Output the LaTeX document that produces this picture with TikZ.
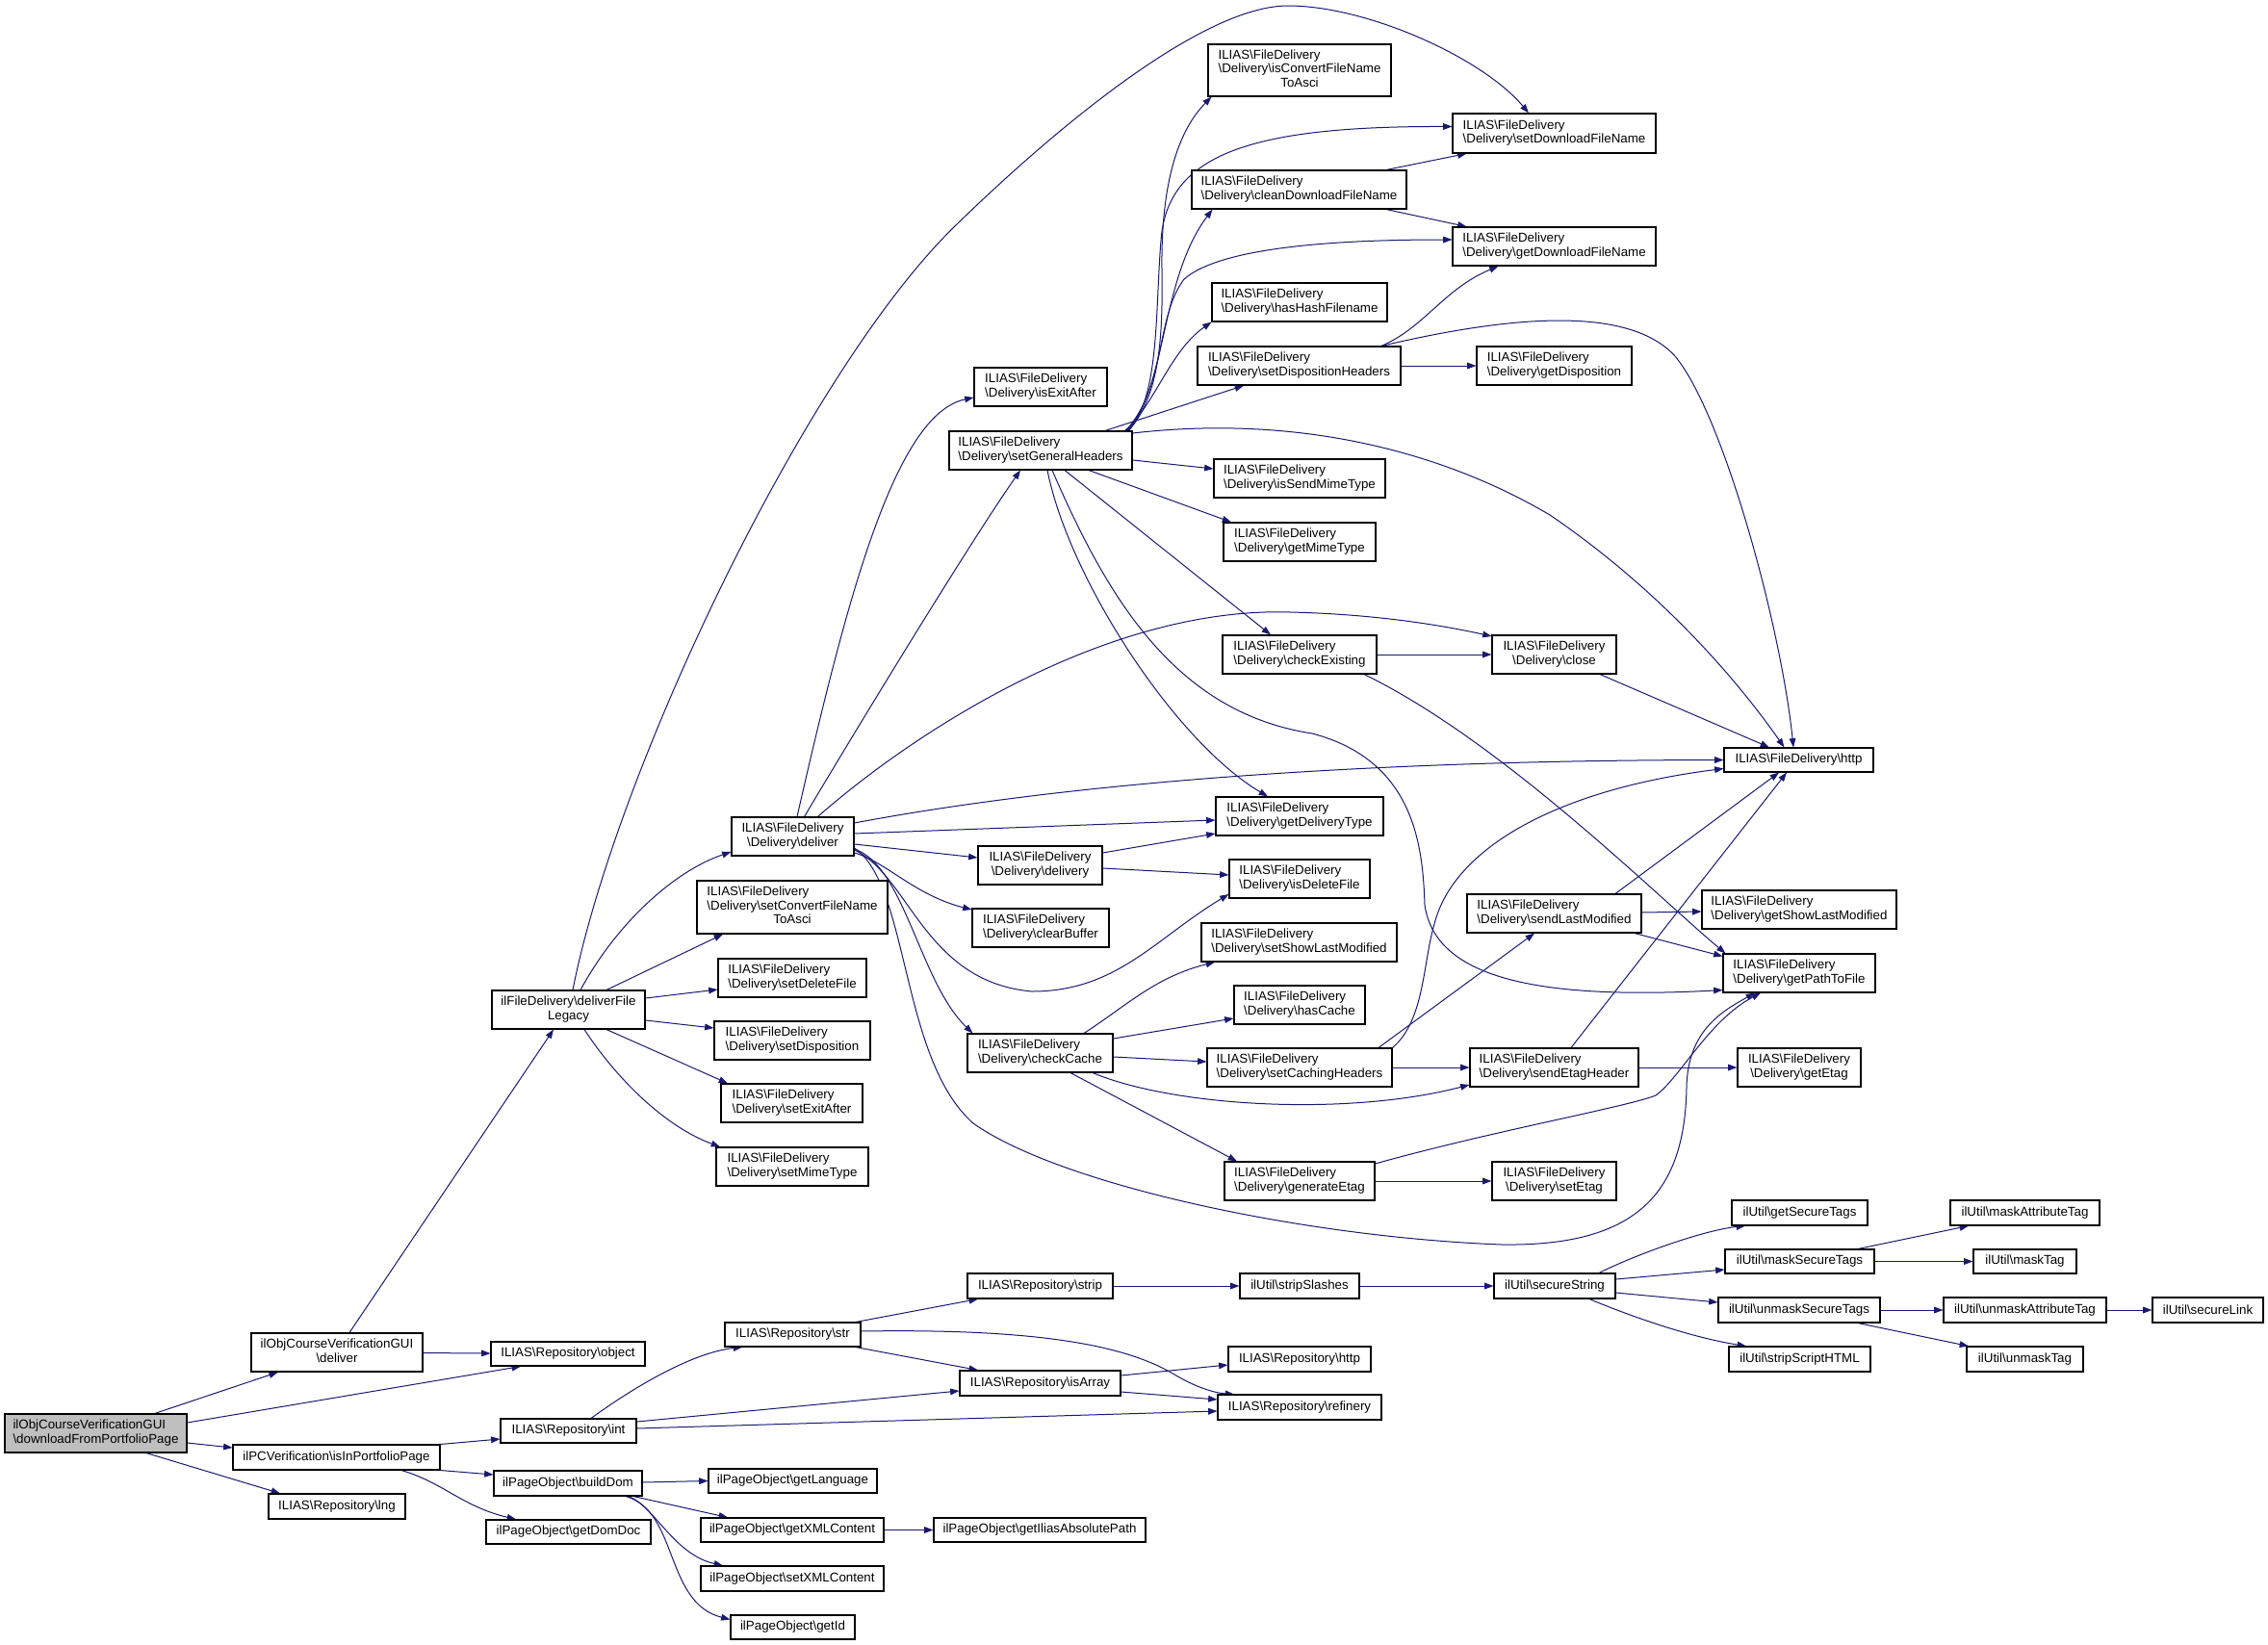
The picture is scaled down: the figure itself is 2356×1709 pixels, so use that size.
\documentclass[tikz,border=0pt]{standalone}
\usepackage{fontspec}
\setmainfont{Liberation Sans}
\usetikzlibrary{arrows.meta,calc}
\pgfdeclarelayer{bg}
\pgfsetlayers{bg,main}
\definecolor{edgeblue}{HTML}{191970}
\newcommand\bsl{\textbackslash}
\newcommand\FDel{ILIAS\bsl{}FileDelivery}
\newcommand\twoln[2]{\begin{tabular}{@{}l@{}}#1\\\multicolumn{1}{@{}c@{}}{#2}\end{tabular}}
\newcommand\threeln[3]{\begin{tabular}{@{}l@{}}#1\\#2\\\multicolumn{1}{@{}c@{}}{#3}\end{tabular}}
\newcommand\dlv[1]{\twoln{\FDel}{\bsl{}Delivery\bsl{}#1}}
\newcommand\mynode[7][]{\node[nbox,#1,minimum width={#5*0.75pt},minimum height={#6*0.75pt}] (#2) at (#3,#4) {#7};}
\tikzset{
  nbox/.style={draw=black, fill=white, line width=0.8pt, inner sep=0pt, font=\fontsize{10}{10.8}\selectfont, text=black},
  arr/.style={draw=edgeblue, line width=0.75pt, -{Triangle[length=7pt,width=5pt]}}
}
\begin{document}
\begin{tikzpicture}[x=0.75pt,y=-0.75pt]
\useasboundingbox (0,0) rectangle (2356,1709);
% ---------------- nodes ----------------
\mynode[fill={rgb,255:red,191;green,191;blue,191}]{main}{99.5}{1489}{189}{40}{\twoln{ilObjCourseVerificationGUI}{\bsl{}downloadFromPortfolioPage}}
\mynode{objdeliver}{350}{1405}{178}{40}{\twoln{ilObjCourseVerificationGUI}{\bsl{}deliver}}
\mynode{object}{590}{1406.5}{160}{25}{ILIAS\bsl{}Repository\bsl{}object}
\mynode{int}{590.5}{1486.5}{141}{25}{ILIAS\bsl{}Repository\bsl{}int}
\mynode{iipp}{349.5}{1514}{215}{26}{ilPCVerification\bsl{}isInPortfolioPage}
\mynode{lng}{350}{1565}{142}{26}{ILIAS\bsl{}Repository\bsl{}lng}
\mynode{buildDom}{590}{1541}{154}{26}{ilPageObject\bsl{}buildDom}
\mynode{getDomDoc}{590.5}{1591.5}{171}{25}{ilPageObject\bsl{}getDomDoc}
\mynode{setMimeType}{823}{1212}{158}{40}{\dlv{setMimeType}}
\mynode{ge}{1350}{1227}{156}{40}{\dlv{generateEtag}}
\mynode{strip}{1080.5}{1336}{151}{26}{ILIAS\bsl{}Repository\bsl{}strip}
\mynode{stripSlashes}{1350}{1336}{124}{26}{ilUtil\bsl{}stripSlashes}
\mynode{str}{823.5}{1386.5}{141}{25}{ILIAS\bsl{}Repository\bsl{}str}
\mynode{rhttp}{1350}{1412}{148}{26}{ILIAS\bsl{}Repository\bsl{}http}
\mynode{isArray}{1080.5}{1437}{167}{26}{ILIAS\bsl{}Repository\bsl{}isArray}
\mynode{refinery}{1350}{1462}{170}{26}{ILIAS\bsl{}Repository\bsl{}refinery}
\mynode{getLanguage}{823.5}{1538.5}{175}{25}{ilPageObject\bsl{}getLanguage}
\mynode{getXMLContent}{823}{1589.5}{190}{25}{ilPageObject\bsl{}getXMLContent}
\mynode{getIAP}{1080}{1589.5}{220}{25}{ilPageObject\bsl{}getIliasAbsolutePath}
\mynode{setXMLContent}{823}{1640}{190}{26}{ilPageObject\bsl{}setXMLContent}
\mynode{getId}{823.5}{1690.5}{129}{25}{ilPageObject\bsl{}getId}
\mynode{setEtag}{1614.5}{1227}{129}{40}{\dlv{setEtag}}
\mynode{getSecureTags}{1869.5}{1260}{141}{26}{ilUtil\bsl{}getSecureTags}
\mynode{maskAttributeTag}{2103.5}{1260}{155}{26}{ilUtil\bsl{}maskAttributeTag}
\mynode{maskSecureTags}{1869.5}{1310.5}{155}{25}{ilUtil\bsl{}maskSecureTags}
\mynode{maskTag}{2103.5}{1310.5}{107}{25}{ilUtil\bsl{}maskTag}
\mynode{secureString}{1615}{1336}{126}{26}{ilUtil\bsl{}secureString}
\mynode{unmaskSecureTags}{1869}{1361}{168}{26}{ilUtil\bsl{}unmaskSecureTags}
\mynode{unmaskAttributeTag}{2103.5}{1361}{169}{26}{ilUtil\bsl{}unmaskAttributeTag}
\mynode{secureLink}{2293.5}{1361}{115}{26}{ilUtil\bsl{}secureLink}
\mynode{stripScriptHTML}{1869.5}{1412}{147}{26}{ilUtil\bsl{}stripScriptHTML}
\mynode{unmaskTag}{2103.5}{1412}{121}{26}{ilUtil\bsl{}unmaskTag}
\mynode{deliver}{823.5}{869}{127}{40}{\dlv{deliver}}
\mynode{delivery}{1080.5}{899}{129}{40}{\dlv{delivery}}
\mynode{scfna}{823}{942.5}{198}{55}{\threeln{\FDel}{\bsl{}Delivery\bsl{}setConvertFileName}{ToAsci}}
\mynode{clearBuffer}{1081}{964}{142}{40}{\dlv{clearBuffer}}
\mynode{setDeleteFile}{823}{1016}{154}{40}{\dlv{setDeleteFile}}
\mynode{dfl}{590.5}{1049}{159}{40}{\twoln{ilFileDelivery\bsl{}deliverFile}{Legacy}}
\mynode{setDisposition}{823}{1081}{162}{40}{\dlv{setDisposition}}
\mynode{checkCache}{1080.5}{1094}{151}{40}{\dlv{checkCache}}
\mynode{setExitAfter}{822.5}{1146}{147}{40}{\dlv{setExitAfter}}
\mynode{getDeliveryType}{1350}{848}{174}{40}{\dlv{getDeliveryType}}
\mynode{isDeleteFile}{1350}{913}{146}{40}{\dlv{isDeleteFile}}
\mynode{sslm}{1349.5}{979}{203}{40}{\dlv{setShowLastModified}}
\mynode{hasCache}{1350}{1044}{136}{40}{\dlv{hasCache}}
\mynode{sch}{1350}{1109}{192}{40}{\dlv{setCachingHeaders}}
\mynode{slm}{1614.5}{949}{181}{40}{\dlv{sendLastModified}}
\mynode{gslm}{1869}{945}{202}{40}{\dlv{getShowLastModified}}
\mynode{gptf}{1869}{1011}{158}{40}{\dlv{getPathToFile}}
\mynode{seh}{1614.5}{1109}{175}{40}{\dlv{sendEtagHeader}}
\mynode{getEtag}{1869}{1109}{128}{40}{\dlv{getEtag}}
\mynode{isExitAfter}{1081}{402}{138}{40}{\dlv{isExitAfter}}
\mynode{sgh}{1081}{468}{190}{40}{\dlv{setGeneralHeaders}}
\mynode{sdh}{1349.5}{380}{211}{40}{\dlv{setDispositionHeaders}}
\mynode{isSendMimeType}{1350}{497}{178}{40}{\dlv{isSendMimeType}}
\mynode{getMimeType}{1350}{563}{158}{40}{\dlv{getMimeType}}
\mynode{checkExisting}{1350}{680}{160}{40}{\dlv{checkExisting}}
\mynode{iscfna}{1350}{73}{190}{54}{\threeln{\FDel}{\bsl{}Delivery\bsl{}isConvertFileName}{ToAsci}}
\mynode{sdfn}{1614.5}{138.5}{211}{41}{\dlv{setDownloadFileName}}
\mynode{cdfn}{1349.5}{197}{223}{40}{\dlv{cleanDownloadFileName}}
\mynode{gdfn}{1614.5}{256}{211}{40}{\dlv{getDownloadFileName}}
\mynode{hhf}{1350}{314}{182}{40}{\dlv{hasHashFilename}}
\mynode{getDisposition}{1614.5}{380}{161}{40}{\dlv{getDisposition}}
\mynode{close}{1614.5}{680}{129}{40}{\dlv{close}}
\mynode{fhttp}{1868.5}{789.5}{155}{25}{\FDel\bsl{}http}
% ---------------- edges ----------------
\begin{pgfonlayer}{bg}
% main
\draw[arr] (main) -- (objdeliver);
\draw[arr] ($(main.east)+(0,-11)$) -- ($(object.south)+(-49,0)$);
\draw[arr] ($(main.east)+(0,10)$) -- ($(iipp.west)+(0,-10)$);
\draw[arr] ($(main.south)+(52.5,0)$) -- ($(lng.north)+(-59,0)$);
% objdeliver
\draw[arr] ($(objdeliver.north)+(13,0)$) -- ($(dfl.south)+(-15.5,0)$);
\draw[arr] (objdeliver) -- (object);
% isInPortfolioPage
\draw[arr] (iipp.north east) -- ($(int.west)+(0,8.5)$);
\draw[arr] (iipp.south east) -- ($(buildDom.west)+(0,-9)$);
\draw[arr] ($(iipp.south)+(67.5,0)$) .. controls (460,1540) and (480,1565) .. ($(getDomDoc.north)+(-54.5,0)$);
% int / str / isArray
\draw[arr] ($(int.north)+(23.5,0)$) .. controls (660,1440) and (720,1405) .. ($(str.south)+(-52.5,0)$);
\draw[arr] ($(int.east)+(0,-9.5)$) -- ($(isArray.west)+(0,8)$);
\draw[arr] ($(int.east)+(0,-2.5)$) -- ($(refinery.west)+(0,4)$);
\draw[arr] ($(str.north)+(65.5,0)$) -- ($(strip.south)+(-64.5,0)$);
\draw[arr] ($(str.south)+(65.5,0)$) -- ($(isArray.north)+(-64.5,0)$);
\draw[arr] ($(str.east)+(0,-3.5)$) .. controls (1080,1380) and (1170,1398) .. (1220,1428) .. controls (1240,1440) and (1260,1447) .. ($(refinery.north)+(-68,0)$);
\draw[arr] ($(isArray.east)+(0,-8)$) -- ($(rhttp.west)+(0,6)$);
\draw[arr] ($(isArray.east)+(0,9)$) -- ($(refinery.west)+(0,-8)$);
% strip chain
\draw[arr] (strip) -- (stripSlashes);
\draw[arr] (stripSlashes) -- (secureString);
\draw[arr] ($(secureString.north)+(46,0)$) .. controls (1700,1303) and (1770,1278) .. ($(getSecureTags.south)+(-56.5,0)$);
\draw[arr] ($(secureString.east)+(0,-7)$) -- ($(maskSecureTags.west)+(0,8.5)$);
\draw[arr] ($(secureString.east)+(0,7)$) -- ($(unmaskSecureTags.west)+(0,-8)$);
\draw[arr] ($(secureString.south)+(36,0)$) .. controls (1700,1370) and (1760,1390) .. ($(stripScriptHTML.north)+(-55.5,0)$);
\draw[arr] ($(maskSecureTags.north)+(60.5,0)$) -- ($(maskAttributeTag.south)+(-58.5,0)$);
\draw[arr] (maskSecureTags) -- (maskTag);
\draw[arr] (unmaskSecureTags) -- (unmaskAttributeTag);
\draw[arr] ($(unmaskSecureTags.south)+(61,0)$) -- ($(unmaskTag.north)+(-58.5,0)$);
\draw[arr] (unmaskAttributeTag) -- (secureLink);
% buildDom
\draw[arr] ($(buildDom.east)+(0,-1)$) -- (getLanguage.west);
\draw[arr] ($(buildDom.south)+(68,0)$) -- ($(getXMLContent.north)+(-67,0)$);
\draw[arr] ($(buildDom.south)+(63,0)$) .. controls (680,1565) and (700,1615) .. ($(setXMLContent.north)+(-72,0)$);
\draw[arr] ($(buildDom.south)+(60,0)$) .. controls (705,1570) and (690,1665) .. ($(getId.west)+(0,-8)$);
\draw[arr] (getXMLContent) -- (getIAP);
% deliverFileLegacy
\draw[arr] ($(dfl.north)+(12.5,0)$) .. controls (640,960) and (700,905) .. ($(deliver.west)+(0,16)$);
\draw[arr] ($(dfl.north)+(39.5,0)$) -- ($(scfna.south)+(-72,0)$);
\draw[arr] ($(dfl.east)+(0,-12)$) -- ($(setDeleteFile.west)+(0,12)$);
\draw[arr] ($(dfl.east)+(0,11)$) -- ($(setDisposition.west)+(0,-13)$);
\draw[arr] ($(dfl.south)+(39.5,0)$) -- ($(setExitAfter.north)+(-66.5,0)$);
\draw[arr] ($(dfl.south)+(16.5,0)$) .. controls (640,1120) and (690,1170) .. ($(setMimeType.north)+(-75,0)$);
\draw[arr] ($(dfl.north)+(4.5,0)$) .. controls (640,800) and (840,380) .. (995,232) .. controls (1100,130) and (1250,6) .. (1338,6) .. controls (1420,6) and (1540,60) .. ($(sdfn.north)+(-26.5,0)$);
% deliver
\draw[arr] ($(deliver.north)+(4.5,0)$) .. controls (880,620) and (930,430) .. ($(isExitAfter.west)+(0,11)$);
\draw[arr] ($(deliver.north)+(12,0)$) .. controls (900,740) and (1010,560) .. ($(sgh.south)+(-21,0)$);
\draw[arr] ($(deliver.north)+(26,0)$) .. controls (950,760) and (1150,630) .. (1340,636) .. controls (1430,638) and (1500,650) .. ($(close.west)+(0,-19)$);
\draw[arr] ($(deliver.east)+(0,-14)$) .. controls (1100,815) and (1400,790) .. (fhttp.west);
\draw[arr] ($(deliver.east)+(0,-3)$) -- ($(getDeliveryType.west)+(0,4)$);
\draw[arr] ($(deliver.east)+(0,8)$) -- ($(delivery.west)+(0,-8)$);
\draw[arr] ($(deliver.east)+(0,17)$) .. controls (920,895) and (950,930) .. ($(clearBuffer.west)+(0,-19)$);
\draw[arr] ($(deliver.east)+(0,14)$) .. controls (945,910) and (960,1020) .. (1072,1030) .. controls (1160,1030) and (1200,975) .. ($(isDeleteFile.west)+(0,16)$);
\draw[arr] ($(deliver.east)+(0,13)$) .. controls (940,900) and (955,1020) .. ($(checkCache.north west)+(6,0)$);
\draw[arr] ($(deliver.east)+(0,12)$) .. controls (945,920) and (935,1100) .. (1011,1167) .. controls (1100,1230) and (1350,1285) .. (1560,1293) .. controls (1700,1295) and (1750,1240) .. (1752,1130) .. controls (1753,1070) and (1790,1050) .. ($(gptf.south)+(-46,0)$);
% delivery
\draw[arr] ($(delivery.east)+(0,-13)$) -- ($(getDeliveryType.west)+(0,18)$);
\draw[arr] ($(delivery.east)+(0,3)$) -- ($(isDeleteFile.west)+(0,-4)$);
% setGeneralHeaders
\draw[arr] ($(sgh.north east)+(-4,0)$) .. controls (1205,410) and (1208,350) .. (1207,280) .. controls (1206,200) and (1220,140) .. ($(iscfna.south west)+(4,0)$);
\draw[arr] ($(sgh.north east)+(-5,0)$) .. controls (1205,415) and (1200,320) .. (1206,250) .. controls (1212,160) and (1300,131) .. ($(sdfn.west)+(0,-7)$);
\draw[arr] ($(sgh.north east)+(-6,0)$) .. controls (1212,405) and (1205,290) .. ($(cdfn.south west)+(22,0)$);
\draw[arr] ($(sgh.north east)+(-7,0)$) .. controls (1212,400) and (1200,330) .. (1230,290) .. controls (1270,255) and (1400,249) .. ($(gdfn.west)+(0,-7)$);
\draw[arr] ($(sgh.north east)+(-8,0)$) .. controls (1200,420) and (1215,365) .. (hhf.south west);
\draw[arr] ($(sgh.north)+(67,0)$) -- ($(sdh.south)+(-57.5,0)$);
\draw[arr] ($(sgh.east)+(0,-18)$) .. controls (1350,430) and (1500,470) .. (1610,535) .. controls (1720,610) and (1800,700) .. ($(fhttp.north)+(-15,0)$);
\draw[arr] ($(sgh.east)+(0,10)$) -- ($(isSendMimeType.west)+(0,-10)$);
\draw[arr] ($(sgh.south)+(50,0)$) -- ($(getMimeType.north)+(-71,0)$);
\draw[arr] ($(sgh.south)+(25,0)$) -- ($(checkExisting.north)+(-30,0)$);
\draw[arr] ($(sgh.south)+(7,0)$) .. controls (1110,600) and (1220,770) .. ($(getDeliveryType.north)+(-33,0)$);
\draw[arr] ($(sgh.south)+(12,0)$) .. controls (1150,620) and (1220,740) .. (1363,762) .. controls (1470,790) and (1478,880) .. (1480,940) .. controls (1490,1010) and (1580,1040) .. ($(gptf.south west)+(0,-3)$);
% setDispositionHeaders
\draw[arr] ($(sdh.north)+(85.5,0)$) .. controls (1480,340) and (1500,300) .. ($(gdfn.south west)+(48,0)$);
\draw[arr] (sdh) -- (getDisposition);
\draw[arr] ($(sdh.north)+(85.5,0)$) .. controls (1560,330) and (1690,315) .. (1740,370) .. controls (1790,430) and (1850,650) .. ($(fhttp.north)+(-5.5,0)$);
% cleanDownloadFileName
\draw[arr] ($(cdfn.north)+(90.5,0)$) -- ($(sdfn.south west)+(15,0)$);
\draw[arr] ($(cdfn.south)+(90.5,0)$) -- ($(gdfn.north west)+(15,0)$);
% checkExisting / close
\draw[arr] (checkExisting) -- (close);
\draw[arr] ($(checkExisting.south)+(67,0)$) .. controls (1560,770) and (1720,930) .. ($(gptf.north west)+(3,0)$);
\draw[arr] ($(close.south)+(47.5,0)$) -- ($(fhttp.north)+(-30.5,0)$);
% checkCache
\draw[arr] ($(checkCache.north)+(45.5,0)$) .. controls (1170,1045) and (1200,1015) .. ($(sslm.south)+(-87.5,0)$);
\draw[arr] ($(checkCache.east)+(0,-15)$) -- ($(hasCache.west)+(0,14)$);
\draw[arr] ($(checkCache.east)+(0,4)$) -- ($(sch.west)+(0,-6)$);
\draw[arr] ($(checkCache.south)+(54.5,0)$) .. controls (1220,1150) and (1400,1160) .. ($(seh.west)+(0,18)$);
\draw[arr] ($(checkCache.south)+(31.5,0)$) -- ($(ge.north)+(-65,0)$);
% setCachingHeaders
\draw[arr] ($(sch.north)+(82,0)$) -- ($(slm.south)+(-20.5,0)$);
\draw[arr] (sch) -- (seh);
\draw[arr] (sch.north east) .. controls (1480,1060) and (1478,1000) .. (1490,960) .. controls (1510,880) and (1620,820) .. ($(fhttp.west)+(0,9)$);
% sendLastModified
\draw[arr] ($(slm.east)+(0,-1)$) -- ($(gslm.west)+(0,2)$);
\draw[arr] ($(slm.south)+(83.5,0)$) -- ($(gptf.north west)+(0,3)$);
\draw[arr] ($(slm.north)+(63.5,0)$) -- ($(fhttp.south)+(-20.5,0)$);
% sendEtagHeader
\draw[arr] (seh) -- (getEtag);
\draw[arr] ($(seh.north)+(17.5,0)$) -- ($(fhttp.south)+(-12.5,0)$);
% generateEtag
\draw[arr] (ge) -- (setEtag);
\draw[arr] ($(ge.east)+(0,-18)$) .. controls (1550,1175) and (1690,1150) .. (1720,1138) .. controls (1745,1120) and (1775,1060) .. ($(gptf.south)+(-40,0)$);
\end{pgfonlayer}
\end{tikzpicture}
\end{document}
